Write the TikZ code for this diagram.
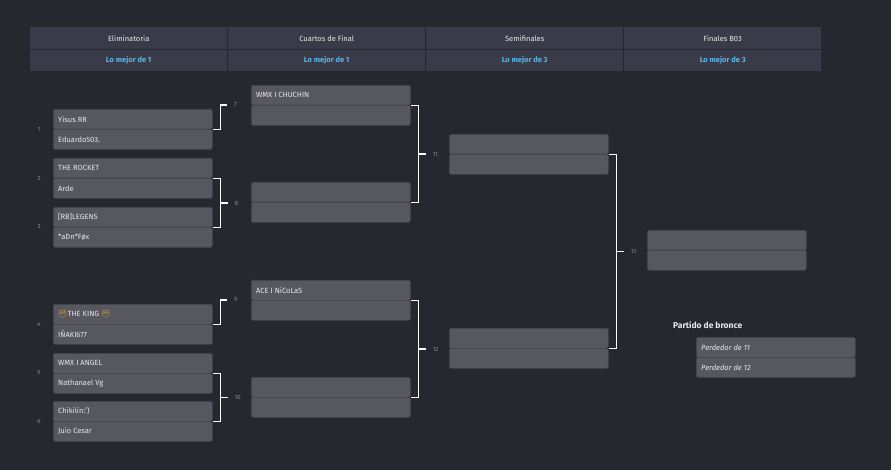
\documentclass[tikz,border=0pt]{standalone}
\usepackage{fontspec}
\usetikzlibrary{calc}
\setmainfont{Fira Sans}
\newfontfamily\emo{Noto Emoji}
\definecolor{bg}{HTML}{262830}
\definecolor{hdr}{HTML}{393C48}
\definecolor{slot}{HTML}{56575F}
\definecolor{slotline}{HTML}{44454C}
\definecolor{txt}{HTML}{E8E8EA}
\definecolor{sub}{HTML}{5AB4E6}
\definecolor{num}{HTML}{8A8C94}
\definecolor{fist}{HTML}{F2B233}
\begin{document}
\begin{tikzpicture}[x=1pt,y=-1pt,
  slotbox/.style={fill=slot,draw=slotline,line width=0.6pt,minimum width=159pt,minimum height=20pt,inner sep=0pt,anchor=north west},
  pname/.style={text=txt,font=\fontsize{7.5}{9}\selectfont,anchor=west,inner sep=0pt},
  seed/.style={text=num,font=\fontsize{6}{7}\selectfont,inner sep=0pt},
  conn/.style={draw=white,line width=1.3pt},
  hcell/.style={fill=hdr,minimum width=197pt,minimum height=22pt,inner sep=0pt,anchor=north west},
  htitle/.style={text=txt,font=\fontsize{7.5}{9}\selectfont},
  hsub/.style={text=sub,font=\bfseries\fontsize{7.5}{9}\selectfont}]
\fill[bg] (0,0) rectangle (891,470);
\useasboundingbox (0,0) rectangle (891,470);
% header
\foreach \i/\s [count=\k from 0] in {Eliminatoria/Lo mejor de 1, Cuartos de Final/Lo mejor de 1, Semifinales/Lo mejor de 3, Finales B03/Lo mejor de 3}{
  \node[hcell] (ht\k) at (30+\k*198,27) {};
  \node[hcell,minimum height=21pt] (hs\k) at (30+\k*198,50) {};
  \node[htitle] at (ht\k.center) {\i};
  \node[hsub] at (hs\k.center) {\s};
}
% matches
\newcommand\mymatch[5]{%
  \node[slotbox,rounded corners=1.5pt] (#1T) at (#2,#3) {};
  \node[slotbox,rounded corners=1.5pt] (#1B) at (#2,#3+20) {};
  \node[pname] at ([xshift=5pt]#1T.west) {#4};
  \node[pname] at ([xshift=5pt]#1B.west) {#5};}
\mymatch{m1}{53}{109}{Yisus RR}{Eduardo503.}
\mymatch{m2}{53}{158}{THE ROCKET}{Arde}
\mymatch{m3}{53}{207}{[RB]LEGENS}{*aDn*Føx}
\mymatch{m4}{53}{304}{{\emo\textcolor{fist}{✊}}THE KING {\emo\textcolor{fist}{✊}}}{IÑAKI677}
\mymatch{m5}{53}{353}{WMX I ANGEL}{Nathanael Vg}
\mymatch{m6}{53}{401}{Chikilin:')}{Juio Cesar}
\mymatch{m7}{251}{85}{WMX I CHUCHIN}{}
\mymatch{m8}{251}{182}{}{}
\mymatch{m9}{251}{280}{ACE I NiCoLaS}{}
\mymatch{m10}{251}{377}{}{}
\mymatch{m11}{449}{134}{}{}
\mymatch{m12}{449}{328}{}{}
\mymatch{m13}{647}{230}{}{}
\mymatch{mb}{696}{337}{\textit{Perdedor de 11}}{\textit{Perdedor de 12}}
\node[text=txt,font=\bfseries\fontsize{8.5}{10}\selectfont,anchor=west,inner sep=0pt] (bronze) at (673,325) {Partido de bronce};
% seeds
\foreach \n/\y in {1/129,2/178,3/227,4/324,5/373,6/421}
  \node[seed] (s\n) at (39,\y) {\n};
% single connectors
\coordinate (j7) at (227,105);
\coordinate (j9) at (227,300);
\draw[conn] (m1T.south east) -- ++(8,0) |- (j7);
\draw[conn] (m4T.south east) -- ++(8,0) |- (j9);
\node[seed,anchor=west] at ([xshift=7pt]j7) {7};
\node[seed,anchor=west] at ([xshift=7pt]j9) {9};
% brackets
\foreach \a/\b/\l in {m2/m3/8, m5/m6/10, m7/m8/11, m9/m10/12, m11/m12/13}{
  \draw[conn] (\a T.south east) -- ++(8,0) |- (\b T.south east);
  \draw[conn] ($(\a T.south east)!0.5!(\b T.south east)+(8,0)$) -- ++(7,0) coordinate (j\l);
  \node[seed,anchor=west] at ([xshift=7pt]j\l) {\l};
}
\end{tikzpicture}
\end{document}
